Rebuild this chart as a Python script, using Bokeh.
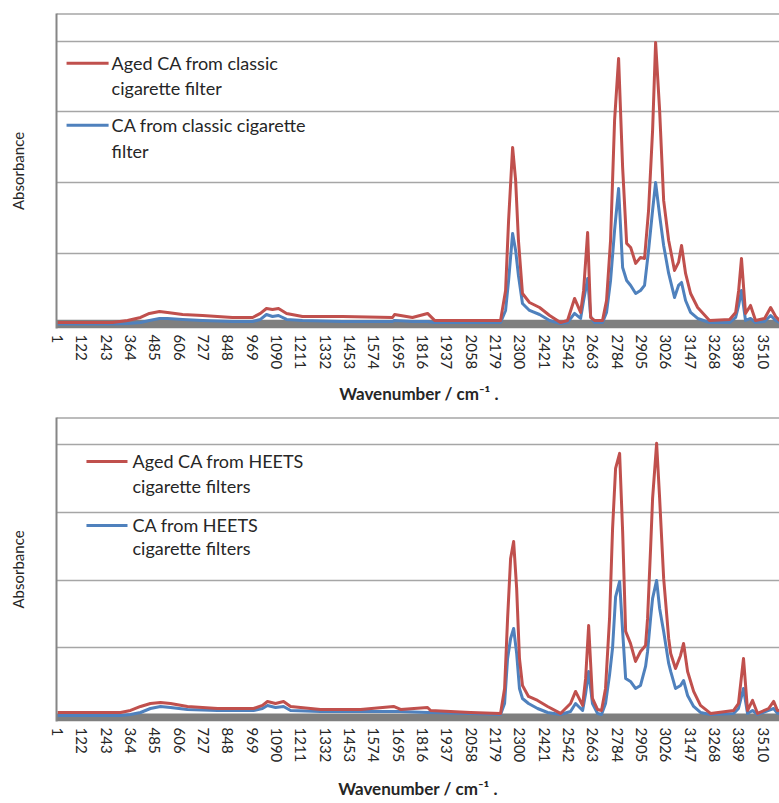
from bokeh.plotting import figure
from bokeh.layouts import column
from bokeh.models import FixedTicker, Label, Range1d, Span
from bokeh.embed import file_html
from bokeh.resources import INLINE

# ---------------- data ----------------
TICK_LABELS = ["1", "122", "243", "364", "485", "606", "727", "848", "969", "1090",
               "1211", "1332", "1453", "1574", "1695", "1816", "1937", "2058", "2179", "2300",
               "2421", "2542", "2663", "2784", "2905", "3026", "3147", "3268", "3389", "3510"]

# panel a) classic cigarette filter
a_x = [1, 274, 349, 414, 458, 508, 548, 623, 722, 871, 971, 1010, 1040, 1070, 1100, 1140,
       1219, 1418, 1667, 1677, 1766, 1841, 1876, 2065, 2204, 2229, 2244, 2264, 2279, 2293,
       2313, 2348, 2398, 2448, 2502, 2537, 2572, 2602, 2617, 2637, 2652, 2671, 2711, 2731,
       2751, 2771, 2791, 2811, 2831, 2851, 2876, 2900, 2920, 2940, 2960, 2975, 2995, 3015,
       3040, 3069, 3089, 3104, 3124, 3149, 3184, 3243, 3343, 3373, 3388, 3402, 3422, 3447,
       3472, 3517, 3547, 3572, 3591, 3600]
a_aged = [0.021, 0.021, 0.05, 0.092, 0.149, 0.177, 0.163, 0.134, 0.12, 0.092, 0.092, 0.149,
          0.219, 0.205, 0.219, 0.149, 0.106, 0.106, 0.092, 0.134, 0.092, 0.149, 0.05, 0.05,
          0.05, 0.474, 1.464, 2.496, 2.03, 1.181, 0.431, 0.304, 0.233, 0.12, 0.021, 0.05,
          0.361, 0.163, 0.474, 1.294, 0.092, 0.05, 0.05, 0.332, 1.181, 2.878, 3.755, 2.214,
          1.139, 1.082, 0.856, 0.941, 0.926, 1.605, 2.737, 3.981, 3.02, 1.747, 1.181, 0.757,
          0.87, 1.11, 0.714, 0.431, 0.233, 0.05, 0.064, 0.163, 0.474, 0.926, 0.149, 0.262,
          0.05, 0.078, 0.233, 0.106, 0.05, 0.05]
a_ca = [0.0, 0.0, 0.007, 0.021, 0.05, 0.078, 0.078, 0.064, 0.05, 0.035, 0.035, 0.064,
        0.134, 0.106, 0.12, 0.064, 0.05, 0.035, 0.035, 0.05, 0.035, 0.035, 0.021, 0.021,
        0.021, 0.191, 0.615, 1.28, 1.04, 0.686, 0.29, 0.191, 0.134, 0.05, 0.007, 0.021,
        0.149, 0.078, 0.332, 0.644, 0.106, 0.021, 0.021, 0.163, 0.615, 1.322, 1.917, 0.799,
        0.615, 0.545, 0.431, 0.474, 0.545, 1.04, 1.605, 2.001, 1.535, 1.11, 0.714, 0.375,
        0.545, 0.587, 0.332, 0.163, 0.078, 0.021, 0.021, 0.092, 0.262, 0.474, 0.05, 0.078,
        0.021, 0.035, 0.12, 0.05, 0.021, 0.021]

# panel b) HEETS cigarette filters
b_x = [1, 314, 364, 414, 463, 513, 563, 647, 797, 976, 1020, 1045, 1085, 1125, 1160, 1309,
       1508, 1672, 1707, 1841, 1856, 2055, 2204, 2224, 2239, 2254, 2269, 2284, 2298, 2313,
       2343, 2388, 2438, 2502, 2552, 2577, 2612, 2627, 2642, 2661, 2686, 2706, 2726, 2746,
       2761, 2776, 2796, 2811, 2826, 2850, 2875, 2900, 2925, 2935, 2950, 2960, 2980, 2995,
       3015, 3040, 3050, 3074, 3099, 3114, 3134, 3164, 3198, 3248, 3363, 3387, 3412, 3432,
       3457, 3482, 3537, 3562, 3581, 3600]
b_aged = [0.044, 0.044, 0.074, 0.133, 0.177, 0.192, 0.177, 0.133, 0.103, 0.103, 0.148,
          0.207, 0.177, 0.207, 0.133, 0.089, 0.089, 0.133, 0.089, 0.118, 0.074, 0.044, 0.03,
          0.399, 1.433, 2.319, 2.57, 1.876, 0.842, 0.443, 0.281, 0.222, 0.133, 0.03, 0.177,
          0.355, 0.148, 0.547, 1.329, 0.251, 0.089, 0.074, 0.399, 1.433, 2.76, 3.65, 3.87,
          2.718, 1.241, 1.064, 0.798, 0.945, 1.034, 1.433, 2.467, 3.205, 4.018, 3.205, 2.024,
          1.137, 0.916, 0.694, 0.886, 1.064, 0.65, 0.355, 0.148, 0.03, 0.074, 0.177, 0.842,
          0.074, 0.222, 0.03, 0.103, 0.207, 0.074, 0.074]
b_ca = [0.0, 0.0, 0.015, 0.044, 0.103, 0.133, 0.118, 0.089, 0.074, 0.074, 0.103, 0.148,
        0.118, 0.133, 0.074, 0.059, 0.059, 0.059, 0.059, 0.044, 0.044, 0.03, 0.015, 0.177,
        0.842, 1.137, 1.285, 0.916, 0.399, 0.251, 0.177, 0.103, 0.044, 0.015, 0.059, 0.177,
        0.074, 0.325, 0.65, 0.177, 0.03, 0.015, 0.177, 0.6, 1.0, 1.75, 1.979, 1.241, 0.547,
        0.502, 0.399, 0.443, 0.724, 0.945, 1.433, 1.728, 1.994, 1.58, 1.241, 0.768, 0.65,
        0.399, 0.443, 0.517, 0.295, 0.133, 0.044, 0.015, 0.03, 0.103, 0.399, 0.03, 0.074,
        0.015, 0.074, 0.103, 0.03, 0.03]

GRID_LEVELS = [1, 2, 3, 4]

RED = "#C0504D"
BLUE = "#4F81BD"
GRAY = "#7F7F7F"
TXT = "#262626"
FONT = "Lato"


def make_panel(x, aged, ca, aged_lines, ca_lines, left, fw, fh, top, bottom,
               x_end, y0, y1, band, leg, title_standoff):
    p = figure(frame_width=fw, frame_height=fh,
               x_range=Range1d(-4, x_end), y_range=Range1d(y0, y1),
               output_backend="svg", toolbar_location=None,
               min_border_left=left, min_border_right=0,
               min_border_top=top, min_border_bottom=bottom,
               outline_line_color=None, background_fill_color="white",
               border_fill_color="white")

    # gray baseline band
    p.varea(x=[-4, x_end], y1=[band[0], band[0]], y2=[band[1], band[1]], color=GRAY)
    p.line(x, ca, color=BLUE, line_width=3, line_join="round")
    p.line(x, aged, color=RED, line_width=3, line_join="round")

    # grid
    p.xgrid.visible = False
    p.ygrid.ticker = FixedTicker(ticks=GRID_LEVELS)
    p.ygrid.grid_line_color = "#A6A6A6"
    p.ygrid.grid_line_width = 1.3

    # top border of plot area
    p.add_layout(Span(location=y1, dimension="width", line_color="#7A7A7A", line_width=2))

    # y axis (no tick labels)
    ya = p.yaxis[0]
    ya.ticker = FixedTicker(ticks=[])
    ya.major_tick_out = 0
    ya.major_tick_in = 0
    ya.minor_tick_out = 0
    ya.minor_tick_in = 0
    ya.axis_line_color = "#868686"
    ya.axis_line_width = 2
    ya.axis_label = "Absorbance"
    ya.axis_label_text_font = FONT
    ya.axis_label_text_font_style = "normal"
    ya.axis_label_text_font_size = "15px"
    ya.axis_label_text_color = TXT
    ya.axis_label_standoff = 30

    # x axis
    xa = p.xaxis[0]
    ticks = [int(t) for t in TICK_LABELS]
    xa.ticker = FixedTicker(ticks=ticks)
    xa.major_label_overrides = {t: s for t, s in zip(ticks, TICK_LABELS)}
    xa.major_label_orientation = "vertical"
    xa.major_label_text_font = FONT
    xa.major_label_text_font_size = "15px"
    xa.major_label_text_color = TXT
    xa.major_label_standoff = 6
    xa.major_tick_out = 0
    xa.major_tick_in = 0
    xa.minor_tick_out = 0
    xa.minor_tick_in = 0
    xa.axis_line_color = None
    xa.axis_label = "Wavenumber / cm\u207b\u00b9 ."
    xa.axis_label_text_font = FONT
    xa.axis_label_text_font_style = "bold"
    xa.axis_label_text_font_size = "17px"
    xa.axis_label_text_color = TXT
    xa.axis_label_standoff = title_standoff

    # legend drawn by hand
    lx0, lx1, tx, ya1, ya2, yb1, yb2 = leg
    p.segment(x0=[lx0, lx0], y0=[ya1, yb1], x1=[lx1, lx1], y1=[ya1, yb1],
              color=[RED, BLUE], line_width=3)
    for txt, yy in [(aged_lines[0], ya1), (aged_lines[1], ya2),
                    (ca_lines[0], yb1), (ca_lines[1], yb2)]:
        p.add_layout(Label(x=tx, y=yy, text=txt, text_font=FONT, text_font_size="18px",
                           text_color=TXT, text_baseline="middle", text_align="left"))
    return p


pa = make_panel(a_x, a_aged, a_ca,
                ["Aged CA from classic", "cigarette filter"],
                ["CA from classic cigarette", "filter"],
                54, 725, 315, 13, 75, 3601, -0.064, 4.39, (-0.064, 0.06),
                (46, 255, 270, 3.685, 3.33, 2.81, 2.45), 11)
pa.add_layout(Label(x=-178, y=4.11, text="a)", text_font=FONT, text_font_size="19px",
                    text_color="black", text_baseline="middle", text_align="center"))

pb = make_panel(b_x, b_aged, b_ca,
                ["Aged CA from HEETS", "cigarette filters"],
                ["CA from HEETS", "cigarette filters"],
                56, 723, 304, 10, 80, 3591, -0.089, 4.40, (-0.089, 0.03),
                (145, 349, 374, 3.752, 3.383, 2.806, 2.467), 13)
pb.add_layout(Label(x=-188, y=4.09, text="b)", text_font=FONT, text_font_size="19px",
                    text_color="black", text_baseline="middle", text_align="center"))

layout = column(pa, pb, spacing=0)
open("out.html", "w").write(file_html(layout, INLINE))
